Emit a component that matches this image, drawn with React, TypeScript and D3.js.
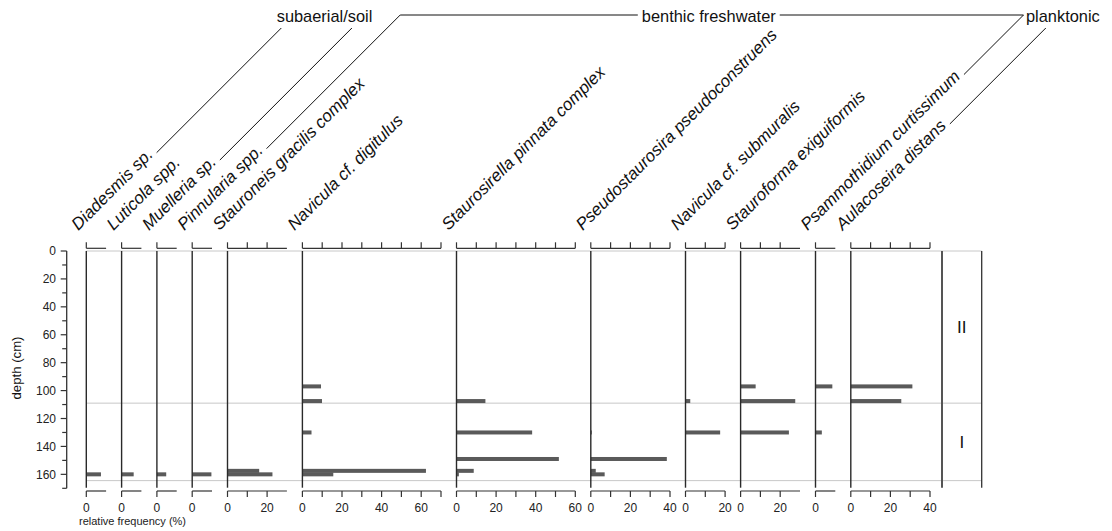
import React, { useMemo } from 'react';
import * as d3 from 'd3';

// ---------- data ----------
const depths = [97, 107.5, 130, 149, 157.5, 160];

const taxa = [
  'Diadesmis sp.',
  'Luticola spp.',
  'Muelleria sp.',
  'Pinnularia spp.',
  'Stauroneis gracilis complex',
  'Navicula cf. digitulus',
  'Staurosirella pinnata complex',
  'Pseudostaurosira pseudoconstruens',
  'Navicula cf. submuralis',
  'Stauroforma exiguiformis',
  'Psammothidium curtissimum',
  'Aulacoseira distans',
];

// relative frequency (%) at each depth in `depths`
const diadesmis = [0, 0, 0, 0, 0, 7.4];
const luticola = [0, 0, 0, 0, 0, 6.1];
const muelleria = [0, 0, 0, 0, 0, 4.7];
const pinnularia = [0, 0, 0, 0, 0, 9.7];
const stauroneis = [0, 0, 0, 0, 16, 22.7];
const naviculaDigitulus = [9.4, 9.9, 4.6, 0, 62.4, 15.6];
const staurosirella = [0, 14.6, 38.2, 51.7, 8.7, 1.2];
const pseudostaurosira = [0, 0, 0.5, 38.4, 2.5, 7.0];
const naviculaSubmuralis = [0, 2.4, 17.5, 0, 0, 0];
const stauroforma = [7.6, 27.6, 24.4, 0, 0, 0];
const psammothidium = [8.5, 0, 3.2, 0, 0, 0];
const aulacoseira = [31.1, 25.5, 0, 0, 0, 0];

const seriesValues = [
  diadesmis, luticola, muelleria, pinnularia, stauroneis, naviculaDigitulus,
  staurosirella, pseudostaurosira, naviculaSubmuralis, stauroforma, psammothidium, aulacoseira,
];

const axisMax = [10, 10, 10, 10, 30, 70, 60, 40, 20, 30, 10, 40];
const axisTicks = [
  [0], [0], [0], [0],
  [0, 10, 20],
  [0, 10, 20, 30, 40, 50, 60, 70],
  [0, 10, 20, 30, 40, 50, 60],
  [0, 10, 20, 30, 40],
  [0, 10, 20],
  [0, 10, 20],
  [0],
  [0, 10, 20, 30, 40],
];

const depthTicks = d3.range(0, 171, 10);
const depthLabels = d3.range(0, 161, 20);

const zoneBounds = [0, 109, 164.5];
const zoneNames = ['II', 'I'];

const groupNames = ['subaerial/soil', 'benthic freshwater', 'planktonic'];
// [taxon index, group index]
const groupLinks = [[0, 0], [2, 0], [3, 1], [10, 1], [11, 2]];

// ---------- layout ----------
const W = 1112;
const H = 531;
const FONT = "'Liberation Sans', Arial, Helvetica, sans-serif";
const LABEL_SIZE = 17;
const GROUP_SIZE = 16.4;
const PX_PER_PCT = 1.98;
const PANEL_GAP = 15.5;
const FIRST_X = 86.3;
const TOP_PANEL = 251;
const BOTTOM_PANEL = 487.7;
const TOP_AXIS_Y = 248.3;
const BOTTOM_AXIS_Y = 491;
const TICK = 6;
const DEPTH_AXIS_X = 66.7;
const LABEL_BASE_Y = 231;
const LABEL_DX = -8;
const ZONE_LEFT = 942;
const ZONE_RIGHT = 981.7;
const BAR_H = 4;
const GROUP_TEXT_X = [276.7, 641.8, 1026];
const GROUP_BASE_Y = 22;
const GROUP_LINE_Y = [28, 15, 28];
const GROUP_HLINE = [false, true, false];

function measure(text: string, font: string): number {
  const c = document.createElement('canvas').getContext('2d');
  if (!c) return text.length * 8;
  c.font = font;
  return c.measureText(text).width;
}

export default function App() {
  const y = d3.scaleLinear().domain([0, 170]).range([TOP_PANEL, 488.3]);

  const panels = useMemo(() => {
    let x0 = FIRST_X;
    return taxa.map((name, i) => {
      const sc = d3.scaleLinear().domain([0, axisMax[i]]).range([x0, x0 + axisMax[i] * PX_PER_PCT]);
      x0 = x0 + axisMax[i] * PX_PER_PCT + PANEL_GAP;
      return { name, sc, values: seriesValues[i], ticks: axisTicks[i] };
    });
  }, []);

  const labelWidths = useMemo(
    () => taxa.map((t) => measure(t, `italic ${LABEL_SIZE}px ${FONT}`)),
    []
  );
  const groupWidths = useMemo(
    () => groupNames.map((t) => measure(t, `${GROUP_SIZE}px ${FONT}`)),
    []
  );

  const c45 = Math.SQRT1_2;

  const linkPaths = groupLinks.map(([ti, gi]) => {
    const ax = panels[ti].sc(0) + LABEL_DX;
    const ay = LABEL_BASE_Y;
    const d0 = labelWidths[ti] + 4;
    const sx = ax + d0 * c45;
    const sy = ay - d0 * c45;
    const ly = GROUP_LINE_Y[gi];
    const ex = sx + (sy - ly);
    let path = `M${sx},${sy}L${ex},${ly}`;
    if (GROUP_HLINE[gi]) {
      const gx0 = GROUP_TEXT_X[gi];
      const gx1 = gx0 + groupWidths[gi];
      const hx = ex < gx0 ? gx0 - 4 : gx1 + 4;
      path += `L${hx},${ly}`;
    }
    return path;
  });

  return (
    <svg
      width={W}
      height={H}
      style={{ position: 'absolute', left: 0, top: 0, background: '#fff' }}
      fontFamily={FONT}
    >
      {/* gray horizontal zone/extent lines */}
      {zoneBounds.map((d, i) => (
        <line key={'g' + i} x1={FIRST_X} x2={ZONE_RIGHT} y1={y(d)} y2={y(d)} stroke="#c8c8c8" strokeWidth={1} />
      ))}

      {/* depth axis */}
      <line x1={DEPTH_AXIS_X} x2={DEPTH_AXIS_X} y1={y(0)} y2={y(170)} stroke="#333" strokeWidth={1.3} />
      {depthTicks.map((d) => (
        <line
          key={'dt' + d}
          x1={DEPTH_AXIS_X - (d % 20 === 0 ? 6 : 4.5)}
          x2={DEPTH_AXIS_X}
          y1={y(d)}
          y2={y(d)}
          stroke="#333"
          strokeWidth={1.2}
        />
      ))}
      {depthLabels.map((d) => (
        <text key={'dl' + d} x={56} y={y(d) + 4.3} textAnchor="end" fontSize={12} fill="#222">
          {d}
        </text>
      ))}
      <text transform={`translate(21,368) rotate(-90)`} textAnchor="middle" fontSize={13.2} fill="#111">
        depth (cm)
      </text>

      {/* panels */}
      {panels.map((p, i) => {
        const x0 = p.sc(0);
        const x1 = p.sc(axisMax[i]);
        return (
          <g key={'p' + i}>
            {/* top axis */}
            <line x1={x0} x2={x1} y1={TOP_AXIS_Y} y2={TOP_AXIS_Y} stroke="#333" strokeWidth={1.2} />
            {p.ticks.map((t) => (
              <line key={'tt' + t} x1={p.sc(t)} x2={p.sc(t)} y1={TOP_AXIS_Y - TICK} y2={TOP_AXIS_Y} stroke="#333" strokeWidth={1.2} />
            ))}
            {/* bottom axis */}
            <line x1={x0} x2={x1} y1={BOTTOM_AXIS_Y} y2={BOTTOM_AXIS_Y} stroke="#333" strokeWidth={1.2} />
            {p.ticks.map((t) => (
              <line key={'bt' + t} x1={p.sc(t)} x2={p.sc(t)} y1={BOTTOM_AXIS_Y} y2={BOTTOM_AXIS_Y + TICK} stroke="#333" strokeWidth={1.2} />
            ))}
            {p.ticks.filter((t) => t % 20 === 0).map((t) => (
              <text key={'bl' + t} x={p.sc(t)} y={512} textAnchor="middle" fontSize={12} fill="#222">
                {t}
              </text>
            ))}
            {/* bars */}
            {p.values.map((v, j) =>
              v > 0 ? (
                <rect
                  key={'b' + j}
                  x={x0}
                  y={y(depths[j]) - BAR_H / 2}
                  width={p.sc(v) - x0}
                  height={BAR_H}
                  fill="#5a5a5a"
                />
              ) : null
            )}
            {/* panel baseline */}
            <line x1={x0} x2={x0} y1={TOP_PANEL} y2={BOTTOM_PANEL} stroke="#2a2a2a" strokeWidth={1.4} />
            {/* rotated species label */}
            <text
              transform={`translate(${x0 + LABEL_DX},${LABEL_BASE_Y}) rotate(-45)`}
              fontSize={LABEL_SIZE}
              fontStyle="italic"
              fill="#111"
            >
              {p.name}
            </text>
          </g>
        );
      })}

      {/* zone column */}
      <line x1={ZONE_LEFT} x2={ZONE_LEFT} y1={TOP_PANEL} y2={BOTTOM_PANEL} stroke="#555" strokeWidth={2} />
      <line x1={ZONE_RIGHT} x2={ZONE_RIGHT} y1={TOP_PANEL} y2={BOTTOM_PANEL} stroke="#333" strokeWidth={1.3} />
      {zoneNames.map((z, i) => (
        <text
          key={'z' + i}
          x={(ZONE_LEFT + ZONE_RIGHT) / 2}
          y={y((zoneBounds[i] + zoneBounds[i + 1]) / 2) + 6}
          textAnchor="middle"
          fontSize={17}
          fill="#111"
        >
          {z}
        </text>
      ))}

      {/* group labels and connectors */}
      {groupNames.map((g, i) => (
        <text key={'gn' + i} x={GROUP_TEXT_X[i]} y={GROUP_BASE_Y} fontSize={GROUP_SIZE} fill="#111">
          {g}
        </text>
      ))}
      {linkPaths.map((d, i) => (
        <path key={'lk' + i} d={d} fill="none" stroke="#111" strokeWidth={1} />
      ))}

      {/* x axis title */}
      <text x={79} y={525} fontSize={11} fill="#222">
        relative frequency (%)
      </text>
    </svg>
  );
}
